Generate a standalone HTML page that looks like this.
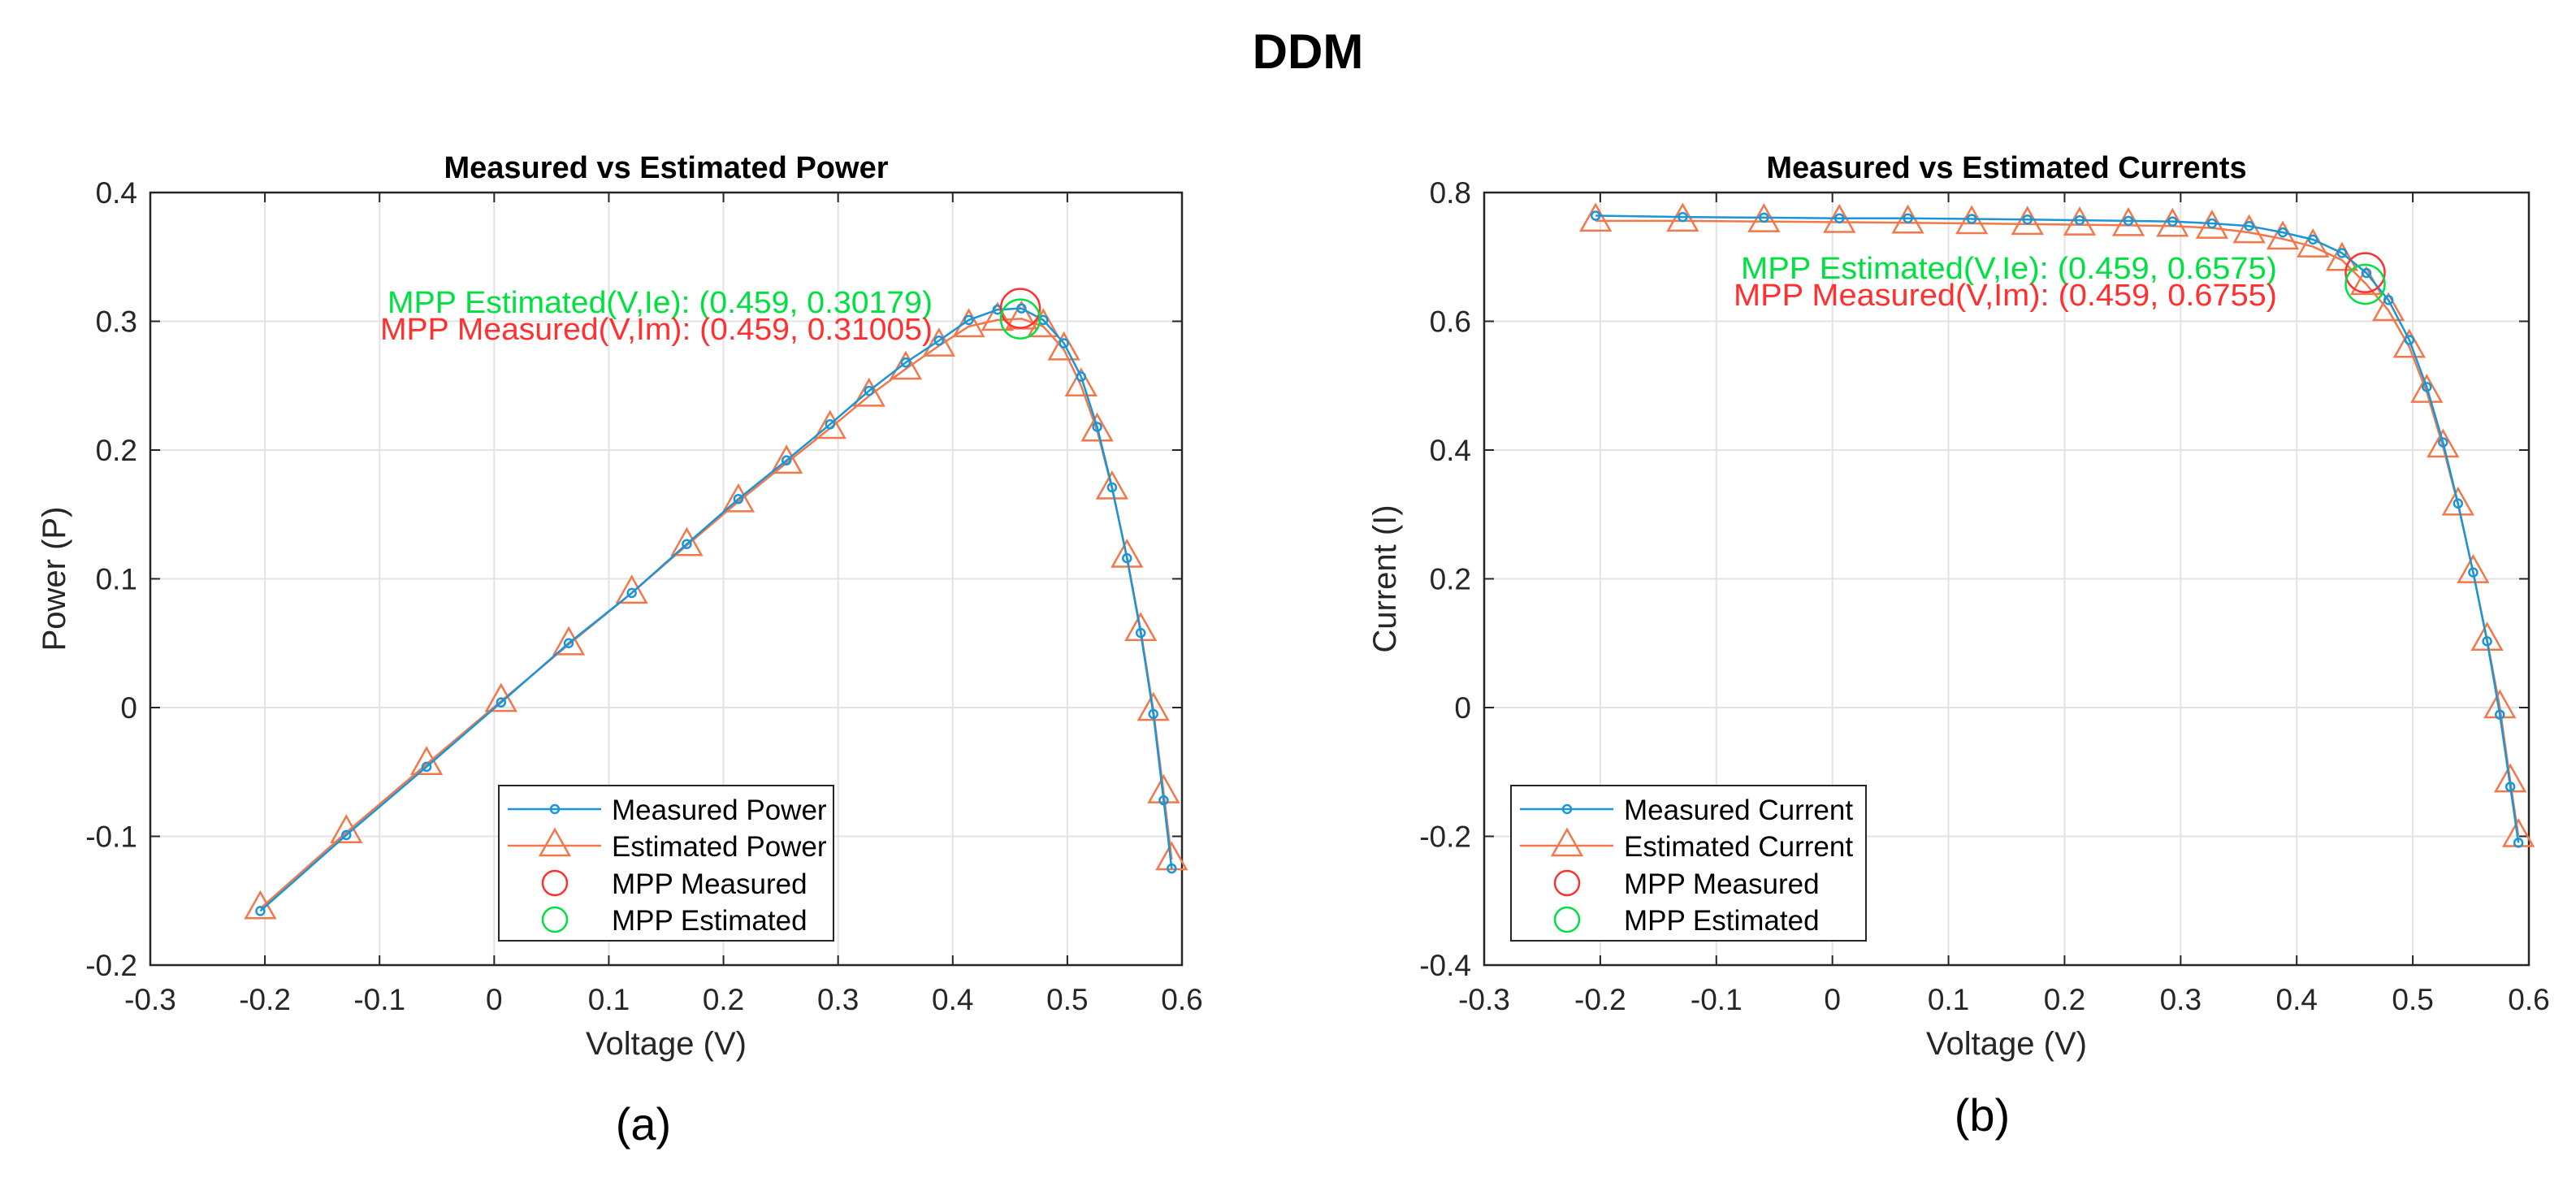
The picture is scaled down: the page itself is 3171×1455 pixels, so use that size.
<!DOCTYPE html>
<html><head><meta charset="utf-8"><style>
html,body{margin:0;padding:0;background:#fff;}
svg{display:block;font-family:"Liberation Sans",sans-serif;}
</style></head><body>
<svg id="fig" width="3171" height="1455" viewBox="0 0 3171 1455" xmlns="http://www.w3.org/2000/svg">
<text x="1610" y="84" font-size="60" font-weight="bold" text-anchor="middle">DDM</text>
<text x="792" y="1403" font-size="56" text-anchor="middle">(a)</text>
<text x="2440" y="1392" font-size="56" text-anchor="middle">(b)</text>
</svg>
<script>
const voltage=[-0.204,-0.129,-0.059,0.006,0.065,0.120,0.168,0.213,0.255,0.293,0.327,0.359,0.388,0.414,0.439,0.460,0.479,0.497,0.512,0.526,0.539,0.552,0.564,0.575,0.584,0.591];
const powerMeasured=[-0.158,-0.099,-0.046,0.004,0.050,0.089,0.127,0.162,0.192,0.220,0.246,0.268,0.285,0.301,0.309,0.310,0.301,0.283,0.257,0.218,0.171,0.116,0.058,-0.005,-0.072,-0.125];
const powerEstimated=[-0.156,-0.097,-0.044,0.005,0.049,0.089,0.126,0.160,0.190,0.217,0.242,0.263,0.281,0.296,0.301,0.302,0.296,0.278,0.250,0.215,0.170,0.117,0.060,-0.002,-0.066,-0.118];
const currentMeasured=[0.764,0.762,0.761,0.760,0.760,0.759,0.758,0.757,0.756,0.755,0.752,0.748,0.738,0.727,0.706,0.675,0.633,0.571,0.498,0.412,0.317,0.210,0.103,-0.011,-0.123,-0.210];
const currentEstimated=[0.756,0.756,0.755,0.754,0.753,0.752,0.751,0.750,0.749,0.748,0.745,0.738,0.728,0.716,0.695,0.6575,0.617,0.560,0.490,0.405,0.315,0.210,0.105,0.000,-0.115,-0.200];
const xTicks=[-0.3,-0.2,-0.1,0,0.1,0.2,0.3,0.4,0.5,0.6];
const yTicksPower=[-0.2,-0.1,0,0.1,0.2,0.3,0.4];
const yTicksCurrent=[-0.4,-0.2,0,0.2,0.4,0.6,0.8];
const mppPower=[0.459,0.31005,0.30179];
const mppCurrent=[0.459,0.6755,0.6575];

const NS="http://www.w3.org/2000/svg";
const svg=document.getElementById('fig');
function mk(tag,attrs,parent){const e=document.createElementNS(NS,tag);for(const k in attrs)e.setAttribute(k,attrs[k]);(parent||svg).appendChild(e);return e;}
const BLUE="#1A96D8",ORANGE="#F0784A",RED="#FF3030",GREEN="#00E040";

function panel(o){
  const g=mk('g',{});
  
  
  const X=v=>o.left+(v-(-0.3))/0.9*(o.right-o.left);
  const Y=v=>o.bottom-(v-o.ymin)/(o.ymax-o.ymin)*(o.bottom-o.top);
  const bg=mk('rect',{x:o.left,y:o.top,width:o.right-o.left,height:o.bottom-o.top,fill:'#fff'},g);
  
  
  xTicks.forEach(t=>{
    const x=X(t);
    const gl=mk('line',{x1:x,x2:x,y1:o.top,y2:o.bottom,stroke:'#e3e3e3','stroke-width':2},g);
    
    
    mk('line',{x1:x,x2:x,y1:o.bottom,y2:o.bottom-12,stroke:'#262626','stroke-width':2},g);
    mk('line',{x1:x,x2:x,y1:o.top,y2:o.top+12,stroke:'#262626','stroke-width':2},g);
    const tl=mk('text',{x:x,y:o.bottom+55,'font-size':37,'text-anchor':'middle',fill:'#262626'},g);
    tl.textContent=String(t);
    
    
  });
  o.yTicks.forEach(t=>{
    const y=Y(t);
    const gl=mk('line',{x1:o.left,x2:o.right,y1:y,y2:y,stroke:'#e3e3e3','stroke-width':2},g);
    
    
    mk('line',{x1:o.left,x2:o.left+12,y1:y,y2:y,stroke:'#262626','stroke-width':2},g);
    mk('line',{x1:o.right,x2:o.right-12,y1:y,y2:y,stroke:'#262626','stroke-width':2},g);
    const tl=mk('text',{x:o.left-16,y:y+13,'font-size':37,'text-anchor':'end',fill:'#262626'},g);
    tl.textContent=String(t);
    
    
  });
  const box=mk('rect',{x:o.left,y:o.top,width:o.right-o.left,height:o.bottom-o.top,fill:'none',stroke:'#262626','stroke-width':2.5},g);
  
  
  const title=mk('text',{x:(o.left+o.right)/2,y:o.top-18,'font-size':38,'font-weight':'bold','text-anchor':'middle'},g);
  title.textContent=o.title;
  
  
  const xl=mk('text',{x:(o.left+o.right)/2,y:o.bottom+110,'font-size':40,'text-anchor':'middle',fill:'#262626'},g);
  xl.textContent='Voltage (V)';
  
  
  const yl=mk('text',{x:0,y:0,'font-size':40,'text-anchor':'middle',fill:'#262626',transform:`translate(${o.ylabX},${(o.top+o.bottom)/2}) rotate(-90)`},g);
  yl.textContent=o.ylabel;
  
  
  const pm=voltage.map((v,i)=>X(v)+','+Y(o.meas[i])).join(' ');
  const pe=voltage.map((v,i)=>X(v)+','+Y(o.est[i])).join(' ');
  const le=mk('polyline',{points:pe,fill:'none',stroke:ORANGE,'stroke-width':2.5},g);
  
  
  voltage.forEach((v,i)=>{
    const x=X(v),y=Y(o.est[i]);
    const t=mk('polygon',{points:`${x-18},${y+12} ${x+18},${y+12} ${x},${y-20}`,fill:'none',stroke:ORANGE,'stroke-width':2.5},g);
    
    
  });
  const lm=mk('polyline',{points:pm,fill:'none',stroke:BLUE,'stroke-width':2.5},g);
  
  
  voltage.forEach((v,i)=>{
    const c=mk('circle',{cx:X(v),cy:Y(o.meas[i]),r:5,fill:'none',stroke:BLUE,'stroke-width':2.5},g);
    
    
  });
  const cr=mk('circle',{cx:X(o.mpp[0]),cy:Y(o.mpp[1]),r:24,fill:'none',stroke:RED,'stroke-width':2.5},g);
  
  
  const cg=mk('circle',{cx:X(o.mpp[0]),cy:Y(o.mpp[2]),r:24,fill:'none',stroke:GREEN,'stroke-width':2.5},g);
  
  
  const ag=mk('text',{x:o.annX+9,y:o.annY,'font-size':38,fill:GREEN,textLength:o.annW,lengthAdjust:'spacingAndGlyphs'},g);
  ag.textContent=o.annG;
  
  
  const ar=mk('text',{x:o.annX,y:o.annY+33,'font-size':38,fill:RED,textLength:o.annW+9,lengthAdjust:'spacingAndGlyphs'},g);
  ar.textContent=o.annR;
  
  
  const L=o.leg;
  const lg=mk('g',{},g);
  
  
  mk('rect',{x:L.x,y:967,width:L.w,height:191,fill:'#fff',stroke:'#262626','stroke-width':2},lg);
  const rows=[996,1041,1087,1132];
  const sx1=L.x+11,sx2=L.x+126,mx=L.x+69,tx=L.x+139;
  mk('line',{x1:sx1,x2:sx2,y1:rows[0],y2:rows[0],stroke:BLUE,'stroke-width':2.5},lg);
  mk('circle',{cx:mx,cy:rows[0],r:5,fill:'none',stroke:BLUE,'stroke-width':2.5},lg);
  mk('line',{x1:sx1,x2:sx2,y1:rows[1],y2:rows[1],stroke:ORANGE,'stroke-width':2.5},lg);
  mk('polygon',{points:`${mx-18},${rows[1]+12} ${mx+18},${rows[1]+12} ${mx},${rows[1]-20}`,fill:'none',stroke:ORANGE,'stroke-width':2.5},lg);
  mk('circle',{cx:mx,cy:rows[2],r:15,fill:'none',stroke:RED,'stroke-width':2.5},lg);
  mk('circle',{cx:mx,cy:rows[3],r:15,fill:'none',stroke:GREEN,'stroke-width':2.5},lg);
  o.legText.forEach((s,i)=>{
    const t=mk('text',{x:tx,y:rows[i]+13,'font-size':35,fill:'#000'},lg);
    t.textContent=s;
    
    
  });
}
panel({id:'power',left:185,right:1455,top:237,bottom:1188,ymin:-0.2,ymax:0.4,yTicks:yTicksPower,
  title:'Measured vs Estimated Power',ylabel:'Power (P)',ylabX:80,meas:powerMeasured,est:powerEstimated,mpp:mppPower,
  annX:468,annY:385,annW:671,annG:'MPP Estimated(V,Ie): (0.459, 0.30179)',annR:'MPP Measured(V,Im): (0.459, 0.31005)',
  leg:{x:614,w:412},legText:['Measured Power','Estimated Power','MPP Measured','MPP Estimated']});
panel({id:'current',left:1827,right:3113,top:237,bottom:1188,ymin:-0.4,ymax:0.8,yTicks:yTicksCurrent,
  title:'Measured vs Estimated Currents',ylabel:'Current (I)',ylabX:1718,meas:currentMeasured,est:currentEstimated,mpp:mppCurrent,
  annX:2134,annY:343,annW:660,annG:'MPP Estimated(V,Ie): (0.459, 0.6575)',annR:'MPP Measured(V,Im): (0.459, 0.6755)',
  leg:{x:1860,w:437},legText:['Measured Current','Estimated Current','MPP Measured','MPP Estimated']});
</script>
</body></html>
